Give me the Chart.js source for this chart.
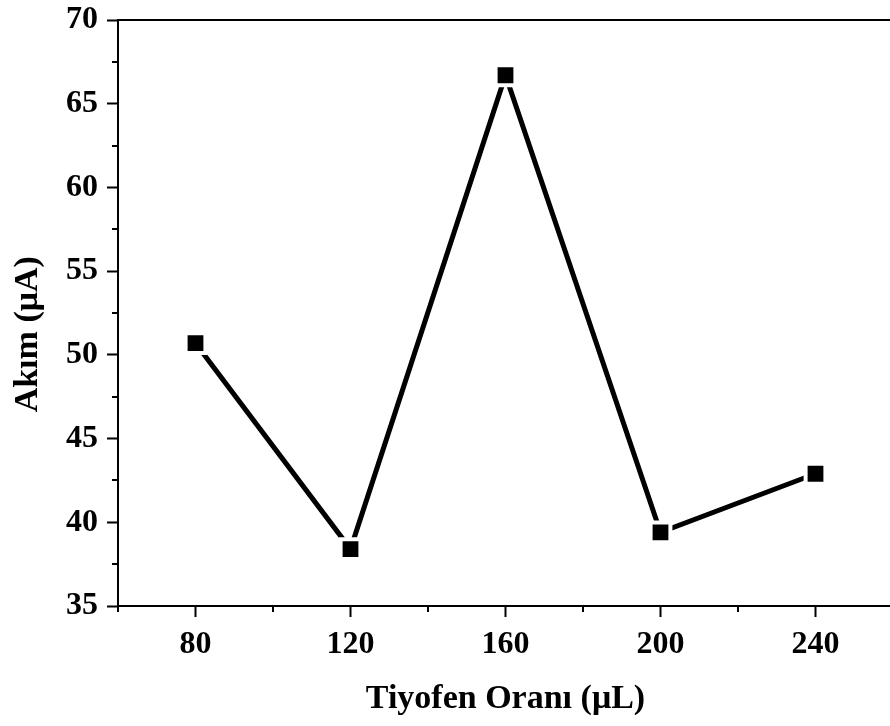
<!DOCTYPE html>
<html>
<head>
<meta charset="utf-8">
<script src="https://cdn.jsdelivr.net/npm/chart.js@4.4.1/dist/chart.umd.min.js"></script>
<style>
  html, body { margin: 0; padding: 0; background: #fff; overflow: hidden; }
  canvas { display: block; }
</style>
</head>
<body>
<canvas id="myChart" width="911" height="726"></canvas>
<script>
// Tiyofen oranına karşı akım
const oranlar = [80, 120, 160, 200, 240];
const akimlar = [50.7, 38.4, 66.7, 39.4, 42.9];

const xTicks = [80, 120, 160, 200, 240];
const xMinorTicks = [60, 100, 140, 180, 220, 260];
const yMinorTicks = [37.5, 42.5, 47.5, 52.5, 57.5, 62.5, 67.5];

const fontFamily = "'Liberation Serif', 'Times New Roman', serif";

// top/right frame lines and the short minor ticks
const frameAndMinor = {
  id: 'frameAndMinor',
  afterDraw(chart) {
    const ctx = chart.ctx;
    const a = chart.chartArea;
    const x = chart.scales.x;
    const y = chart.scales.y;
    ctx.save();
    ctx.strokeStyle = '#000';
    ctx.lineWidth = 2;
    ctx.beginPath();
    ctx.moveTo(a.left, a.top);
    ctx.lineTo(a.right, a.top);
    ctx.lineTo(a.right, a.bottom);
    ctx.stroke();
    ctx.beginPath();
    xMinorTicks.forEach(v => {
      const px = Math.round(x.getPixelForValue(v));
      ctx.moveTo(px, a.bottom);
      ctx.lineTo(px, a.bottom + 6);
    });
    yMinorTicks.forEach(v => {
      const py = Math.round(y.getPixelForValue(v));
      ctx.moveTo(a.left, py);
      ctx.lineTo(a.left - 6, py);
    });
    ctx.stroke();
    ctx.restore();
  }
};

const chartContext = document.getElementById('myChart').getContext('2d');
const myChart = new Chart(chartContext, {
  type: 'line',
  data: {
    datasets: [{
      data: oranlar.map((o, i) => ({ x: o, y: akimlar[i] })),
      borderColor: '#000',
      borderWidth: 5,
      pointStyle: 'rect',
      pointRadius: 14,
      pointHoverRadius: 14,
      pointBackgroundColor: '#000',
      pointBorderColor: '#fff',
      pointBorderWidth: 4,
      tension: 0
    }]
  },
  options: {
    responsive: false,
    animation: false,
    events: [],
    layout: { padding: { left: 0, top: 20, right: 18, bottom: 0 } },
    plugins: {
      legend: { display: false },
      tooltip: { enabled: false }
    },
    scales: {
      x: {
        type: 'linear',
        min: 60,
        max: 260,
        afterBuildTicks: scale => {
          scale.ticks = xTicks.map(v => ({ value: v }));
        },
        afterFit: scale => {
          scale.height = 120;
          scale.paddingLeft = 0;
          scale.paddingRight = 0;
        },
        border: { display: true, color: '#000', width: 2 },
        grid: {
          drawOnChartArea: false,
          drawTicks: true,
          tickLength: 11,
          tickWidth: 2,
          tickColor: '#000'
        },
        ticks: {
          color: '#000',
          padding: 9,
          maxRotation: 0,
          font: { family: fontFamily, size: 32, weight: 'bold' }
        },
        title: {
          display: true,
          text: 'Tiyofen Oranı (μL)',
          color: '#000',
          padding: { top: 0, bottom: 6 },
          font: { family: fontFamily, size: 34, weight: 'bold' }
        }
      },
      y: {
        min: 35,
        max: 70,
        afterFit: scale => {
          scale.width = 118;
          scale.paddingTop = 0;
          scale.paddingBottom = 0;
        },
        border: { display: true, color: '#000', width: 2 },
        grid: {
          drawOnChartArea: false,
          drawTicks: true,
          tickLength: 11,
          tickWidth: 2,
          tickColor: '#000'
        },
        ticks: {
          stepSize: 5,
          color: '#000',
          padding: 9,
          font: { family: fontFamily, size: 32, weight: 'bold' }
        },
        title: {
          display: true,
          // trailing spaces push the rotated label a little below centre
          text: 'Akım (μA)\u00A0\u00A0\u00A0\u00A0\u00A0',
          color: '#000',
          padding: { top: 8, bottom: 0 },
          font: { family: fontFamily, size: 34, weight: 'bold' }
        }
      }
    }
  },
  plugins: [frameAndMinor]
});
</script>
</body>
</html>
